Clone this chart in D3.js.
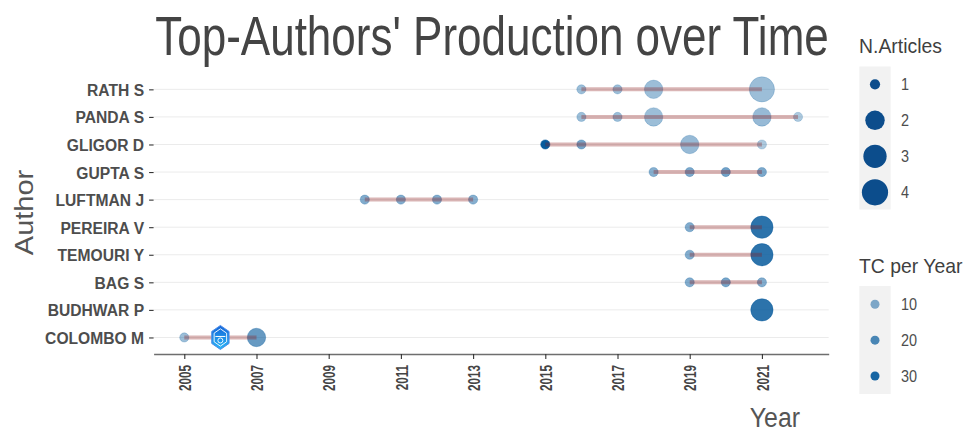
<!DOCTYPE html>
<meta charset="utf-8">
<style>
body {
  margin: 0;
  background: #fff;
  font-family: "Liberation Sans", Arial, sans-serif;
}
</style>
<body>
<div id="chart"></div>
<script src="https://d3js.org/d3.v7.min.js"></script>
<script>

// authors, top to bottom
var authors = ["RATH S", "PANDA S", "GLIGOR D", "GUPTA S", "LUFTMAN J",
               "PEREIRA V", "TEMOURI Y", "BAG S", "BUDHWAR P", "COLOMBO M"];

// one entry per point
var pt_author = ["RATH S", "RATH S", "RATH S", "RATH S",
                 "PANDA S", "PANDA S", "PANDA S", "PANDA S", "PANDA S",
                 "GLIGOR D", "GLIGOR D", "GLIGOR D", "GLIGOR D",
                 "GUPTA S", "GUPTA S", "GUPTA S", "GUPTA S",
                 "LUFTMAN J", "LUFTMAN J", "LUFTMAN J", "LUFTMAN J",
                 "PEREIRA V", "PEREIRA V",
                 "TEMOURI Y", "TEMOURI Y",
                 "BAG S", "BAG S", "BAG S",
                 "BUDHWAR P",
                 "COLOMBO M", "COLOMBO M", "COLOMBO M"];
var pt_year = [2016, 2017, 2018, 2021,
               2016, 2017, 2018, 2021, 2022,
               2015, 2016, 2019, 2021,
               2018, 2019, 2020, 2021,
               2010, 2011, 2012, 2013,
               2019, 2021,
               2019, 2021,
               2019, 2020, 2021,
               2021,
               2005, 2006, 2007];
var pt_freq = [1, 1, 2, 4,
               1, 1, 2, 2, 1,
               1, 1, 2, 1,
               1, 1, 1, 1,
               1, 1, 1, 1,
               1, 3,
               1, 3,
               1, 1, 1,
               3,
               1, 1, 2];
var pt_tcpy = [5, 5, 5, 5,
               5, 5, 5, 6, 2,
               33, 12, 6, 2,
               9, 11, 13, 11,
               10, 10, 10, 9,
               10, 26,
               10, 26,
               10, 12, 10,
               26,
               5, 10, 15];

var year_ticks = [2005, 2007, 2009, 2011, 2013, 2015, 2017, 2019, 2021];
var size_breaks = [1, 2, 3, 4];
var tc_breaks = [10, 20, 30];

var W = 978, H = 434;
var point_color = "#065a9c";
var legend_color = "#0c4d8c";
var line_color = "#8B1A1A";    // firebrick4
var text_dark = "#4d4d4d";

var svg = d3.select("#chart").append("svg")
    .attr("width", W)
    .attr("height", H)
    .style("display", "block");

var points = pt_year.map(function(y, i) {
  return {author: pt_author[i], year: y, freq: pt_freq[i], tc: pt_tcpy[i]};
});

// scales
var x = d3.scaleLinear().domain([2004.15, 2022.85]).range([153.6, 828.7]);
var y = d3.scalePoint().domain(authors).range([72.8, 354]).padding(0.6);
var r_lin = d3.scaleLinear().domain([0, 1]).range([4.6, 12.6]);
function radius(n) { return r_lin(Math.sqrt((n - 1) / 3)); }
var alpha = d3.scaleLinear()
    .domain([d3.min(pt_tcpy), d3.max(pt_tcpy)])
    .range([0.33, 1]);

// squeezed text helper
function label(g, x0, y0, s, size, weight, sx, anchor, color) {
  return g.append("text")
      .attr("transform", "translate(" + x0 + "," + y0 + ") scale(" + sx + ",1)")
      .attr("text-anchor", anchor)
      .style("font-size", size + "px")
      .style("font-weight", weight)
      .style("fill", color)
      .text(s);
}

// gridlines
svg.append("g").selectAll("line")
  .data(authors)
  .join("line")
    .attr("x1", x.range()[0])
    .attr("x2", x.range()[1])
    .attr("y1", function(d) { return y(d); })
    .attr("y2", function(d) { return y(d); })
    .attr("stroke", "#ebebeb")
    .attr("stroke-width", 1);

// y axis (ticks + labels only)
var yAxis = svg.append("g")
    .attr("transform", "translate(" + x.range()[0] + ",0)")
    .call(d3.axisLeft(y).tickSize(4.5).tickPadding(0));
yAxis.select(".domain").remove();
yAxis.selectAll(".tick line").attr("stroke", "#333").attr("stroke-width", 1.1);
yAxis.selectAll(".tick text")
    .attr("x", null).attr("dy", null)
    .attr("transform", "translate(-9.5,6) scale(0.92,1)")
    .style("font-family", "'Liberation Sans', Arial, sans-serif")
    .style("font-size", "17px")
    .style("font-weight", "bold")
    .style("fill", text_dark);

// x axis
var xAxis = svg.append("g")
    .attr("transform", "translate(0,354)")
    .call(d3.axisBottom(x).tickValues(year_ticks).tickFormat(d3.format("d"))
          .tickSize(5).tickSizeOuter(0));
xAxis.select(".domain").attr("stroke", "#6e6e6e").attr("stroke-width", 1.6);
xAxis.selectAll(".tick line").attr("stroke", "#333").attr("stroke-width", 1.1);
xAxis.selectAll(".tick text")
    .attr("y", null).attr("dy", null).attr("x", null)
    .attr("transform", "rotate(-90) translate(-11,6.2) scale(0.78,1.15)")
    .attr("text-anchor", "end")
    .style("font-family", "'Liberation Sans', Arial, sans-serif")
    .style("font-size", "15px")
    .style("font-weight", "bold")
    .style("fill", "#444");

// points
svg.append("g").selectAll("circle")
  .data(points)
  .join("circle")
    .attr("cx", function(d) { return x(d.year); })
    .attr("cy", function(d) { return y(d.author); })
    .attr("r", function(d) { return radius(d.freq); })
    .attr("fill", point_color)
    .attr("fill-opacity", function(d) { return alpha(d.tc); })
    .attr("stroke", point_color)
    .attr("stroke-opacity", function(d) { return alpha(d.tc) * 0.5; })
    .attr("stroke-width", 1);

// lines from first to last year, drawn over the points
var spans = authors.map(function(a) {
  var ys = points.filter(function(p) { return p.author === a; }).map(function(p) { return p.year; });
  return {author: a, ext: d3.extent(ys)};
}).filter(function(d) { return d.ext[1] > d.ext[0]; });

svg.append("g").selectAll("line")
  .data(spans)
  .join("line")
    .attr("x1", function(d) { return x(d.ext[0]); })
    .attr("x2", function(d) { return x(d.ext[1]); })
    .attr("y1", function(d) { return y(d.author); })
    .attr("y2", function(d) { return y(d.author); })
    .attr("stroke", line_color)
    .attr("stroke-opacity", 0.32)
    .attr("stroke-width", 4);

// small hexagon badge sitting on COLOMBO M 2006
var hx = x(2006), hy = y("COLOMBO M");
var hex = d3.range(6).map(function(i) {
  var a = Math.PI / 3 * i - Math.PI / 2;
  return [hx + 10 * Math.cos(a), hy + 12 * Math.sin(a)];
});
var grad = svg.append("defs").append("linearGradient")
    .attr("id", "hexg").attr("x1", 0).attr("y1", 0).attr("x2", 0).attr("y2", 1);
grad.append("stop").attr("offset", "0%").attr("stop-color", "#1565d8");
grad.append("stop").attr("offset", "100%").attr("stop-color", "#29b6f6");
svg.append("path")
    .attr("d", d3.line()(hex) + "Z")
    .attr("fill", "url(#hexg)")
    .attr("stroke", "#4f8de8")
    .attr("stroke-width", 1);
var hexIn = hex.map(function(p) { return [hx + (p[0] - hx) * 0.72, hy + (p[1] - hy) * 0.72]; });
svg.append("path")
    .attr("d", d3.line()(hexIn) + "Z")
    .attr("fill", "none")
    .attr("stroke", "#ffffff")
    .attr("stroke-width", 0.9);
svg.append("line")
    .attr("x1", hx - 5).attr("x2", hx + 5)
    .attr("y1", hy - 1).attr("y2", hy - 1)
    .attr("stroke", "#fff").attr("stroke-width", 1);
svg.append("circle")
    .attr("cx", hx).attr("cy", hy + 3).attr("r", 2.5)
    .attr("fill", "none").attr("stroke", "#fff").attr("stroke-width", 0.9);

// titles
label(svg, 492, 55, "Top-Authors' Production over Time", 55, "normal", 0.8, "middle", "#444");
svg.append("text")
    .attr("transform", "translate(33,212.5) rotate(-90) scale(1,0.88)")
    .attr("text-anchor", "middle")
    .style("font-size", "29px")
    .style("fill", "#555")
    .text("Author");
label(svg, 800, 427, "Year", 27, "normal", 0.92, "end", "#555");

// legend: N.Articles
var lg1 = svg.append("g");
label(lg1, 859, 53, "N.Articles", 20, "normal", 0.97, "start", "#3f3f3f");
lg1.append("rect")
    .attr("x", 859.3).attr("y", 66.5)
    .attr("width", 31.4).attr("height", 143)
    .attr("fill", "#f2f2f2");
var ly1 = d3.scalePoint().domain(size_breaks).range([84.3, 192.3]);
lg1.selectAll("circle")
  .data(size_breaks)
  .join("circle")
    .attr("cx", 875)
    .attr("cy", function(d) { return ly1(d); })
    .attr("r", function(d) { return radius(d) + 0.5; })
    .attr("fill", legend_color);
size_breaks.forEach(function(d) {
  label(lg1, 901, ly1(d) + 6, String(d), 17, "normal", 0.85, "start", "#4d4d4d");
});

// legend: TC per Year
var lg2 = svg.append("g");
label(lg2, 859, 273, "TC per Year", 20, "normal", 0.97, "start", "#3f3f3f");
lg2.append("rect")
    .attr("x", 859.3).attr("y", 286)
    .attr("width", 31.4).attr("height", 108)
    .attr("fill", "#f2f2f2");
var ly2 = d3.scalePoint().domain(tc_breaks).range([304.3, 376]);
lg2.selectAll("circle")
  .data(tc_breaks)
  .join("circle")
    .attr("cx", 875)
    .attr("cy", function(d) { return ly2(d); })
    .attr("r", 4.5)
    .attr("fill", point_color)
    .attr("fill-opacity", function(d) { return alpha(d); });
tc_breaks.forEach(function(d) {
  label(lg2, 901, ly2(d) + 6, String(d), 17, "normal", 0.85, "start", "#4d4d4d");
});

</script>
</body>
